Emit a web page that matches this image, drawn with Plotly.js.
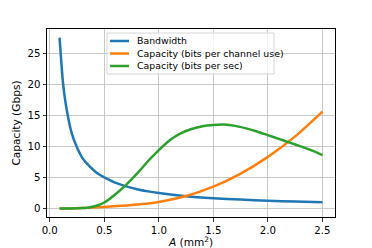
<!DOCTYPE html>
<html>
<head>
<meta charset="utf-8">
<script src="https://cdn.plot.ly/plotly-3.0.1.min.js"></script>
<style>html,body{margin:0;padding:0;background:#fff;}#chart{width:372px;height:248px;}</style>
</head>
<body>
<div id="chart"></div>
<script>
const bandwidthA = [0.09,0.12,0.15,0.2,0.25,0.3,0.35,0.4,0.45,0.5,0.6,0.7,0.8,0.9,1.0,1.25,1.5,1.75,2.0,2.25,2.5];
const bandwidthVals = [27.5,20.5,16.5,12.2,9.8,8.1,7.05,6.2,5.5,5.0,4.15,3.55,3.1,2.75,2.48,1.98,1.66,1.42,1.25,1.1,1.0];

const capUseA = [0.09,0.3,0.5,0.75,1.0,1.25,1.5,1.75,2.0,2.25,2.5];
const capUseVals = [0.0,0.08,0.25,0.55,1.05,2.0,3.5,5.6,8.3,11.6,15.6];

const capSecA = [0.09,0.2,0.3,0.35,0.4,0.45,0.5,0.6,0.7,0.8,0.9,1.0,1.1,1.2,1.3,1.4,1.5,1.6,1.7,1.8,1.9,2.0,2.1,2.2,2.3,2.4,2.5];
const capSecVals = [0.0,0.0,0.05,0.12,0.3,0.55,0.95,2.25,3.8,5.6,7.6,9.4,11.0,12.1,12.8,13.25,13.45,13.5,13.3,12.9,12.4,11.8,11.2,10.6,10.0,9.35,8.6];

const seriesNames = ["Bandwidth","Capacity (bits per channel use)","Capacity (bits per sec)"];
const seriesColors = ["#1f77b4","#ff7f0e","#2ca02c"];
const xTickVals = [0.0,0.5,1.0,1.5,2.0,2.5];
const xTickText = ["0.0","0.5","1.0","1.5","2.0","2.5"];
const yTickVals = [0,5,10,15,20,25];

const tickFont = {family:"DejaVu Sans", size:10.2, color:"#000"};
const titleFont = {family:"DejaVu Sans", size:10.6, color:"#000"};
const legendFont = {family:"DejaVu Sans", size:9.4, color:"#000"};
const traces = [
  {x:bandwidthA, y:bandwidthVals, name:seriesNames[0], mode:"lines", line:{color:seriesColors[0], width:2.5, shape:"spline", smoothing:0.5}},
  {x:capUseA, y:capUseVals, name:seriesNames[1], mode:"lines", line:{color:seriesColors[1], width:2.5, shape:"spline", smoothing:0.6}},
  {x:capSecA, y:capSecVals, name:seriesNames[2], mode:"lines", line:{color:seriesColors[2], width:2.5, shape:"spline", smoothing:0.6}}
];

// manual legend (matplotlib style, compact rows)
const legBox = {x0:0.2083, x1:0.7882, y0:0.7606, y1:0.9787};
const legRowsY = [0.9362, 0.8697, 0.8032];
const legLineX = [0.21875, 0.2847];
const legTextX = 0.3073;
const shapes = [{type:"rect", xref:"paper", yref:"paper", x0:legBox.x0, x1:legBox.x1, y0:legBox.y0, y1:legBox.y1, fillcolor:"rgba(255,255,255,0.8)", line:{color:"#d6d6d6", width:1}, layer:"above"}];
const annotations = [];
seriesNames.forEach((n,i)=>{
  shapes.push({type:"line", xref:"paper", yref:"paper", x0:legLineX[0], x1:legLineX[1], y0:legRowsY[i], y1:legRowsY[i], line:{color:seriesColors[i], width:2.5}, layer:"above"});
  annotations.push({xref:"paper", yref:"paper", x:legTextX, y:legRowsY[i], xanchor:"left", yanchor:"middle", text:n, showarrow:false, font:legendFont, borderpad:0});
});

const axisCommon = {showline:true, mirror:true, linecolor:"#000", linewidth:1, ticks:"outside", ticklen:3.5, tickwidth:0.8, tickcolor:"#000", showgrid:true, gridcolor:"#bcbcbc", gridwidth:0.8, zeroline:false, tickfont:tickFont};
const layout = {
  width:372, height:248,
  margin:{l:47, r:37, t:29, b:31},
  paper_bgcolor:"#fff", plot_bgcolor:"#fff",
  font:tickFont,
  showlegend:false,
  shapes:shapes,
  annotations:annotations,
  xaxis:Object.assign({}, axisCommon, {range:[-0.025,2.615], tickvals:xTickVals, ticktext:xTickText, title:{text:"<i>A</i> (mm<sup>2</sup>)", font:titleFont, standoff:1}}),
  yaxis:Object.assign({}, axisCommon, {range:[-1.38,28.9], tickvals:yTickVals, title:{text:"Capacity (Gbps)", font:titleFont, standoff:4}})
};
Plotly.newPlot("chart", traces, layout, {staticPlot:true, displayModeBar:false});
</script>
</body>
</html>
